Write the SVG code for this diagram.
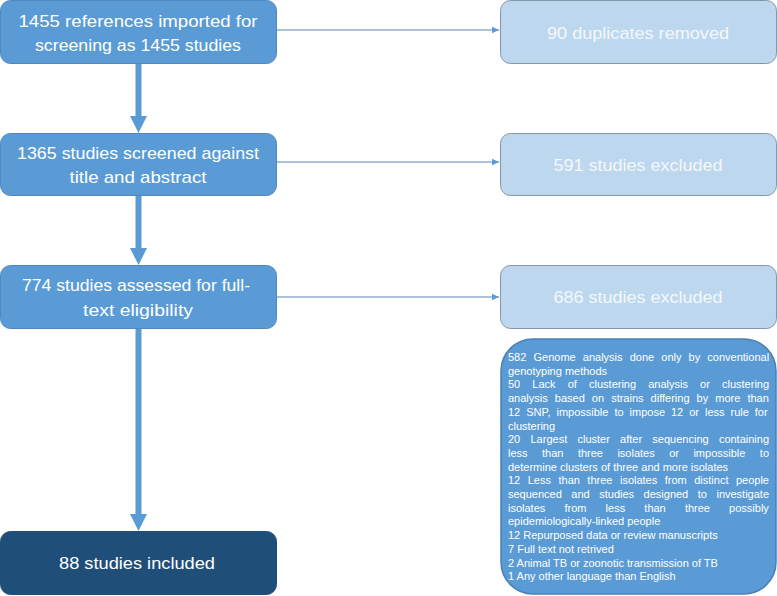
<svg xmlns="http://www.w3.org/2000/svg" width="777" height="596" viewBox="0 0 777 596">
<style>
.main{fill:#5B9BD5;stroke:#4F88BD;stroke-width:1}
.light{fill:#BDD7EE;stroke:#8497AC;stroke-width:1}
.dark{fill:#1F4E79;stroke:#1F4E79;stroke-width:1}
.big{fill:#5B9BD5;stroke:#4A80B3;stroke-width:1.5}
.t{font-family:"Liberation Sans",Arial,sans-serif;font-size:17px;fill:#FFFFFF;text-anchor:middle}
.tl{font-family:"Liberation Sans",Arial,sans-serif;font-size:17px;fill:#F4F8FC;text-anchor:middle}
.s{font-family:"Liberation Sans",Arial,sans-serif;font-size:11px;fill:#FFFFFF}
.conn{stroke:#8FB1D1;stroke-width:1.5;fill:none}
.thick{stroke:#5B9BD5;stroke-width:6;fill:none}
</style>
<defs>
<marker id="sm" markerWidth="8" markerHeight="8" refX="7" refY="4" orient="auto" markerUnits="userSpaceOnUse">
<path d="M0,0.8 L7,4 L0,7.2 Z" fill="#5B9BD5"/>
</marker>
</defs>
<g id="connectors">
<line class="thick" x1="138.5" y1="64" x2="138.5" y2="117"/>
<path d="M130,116 L147,116 L138.5,133 Z" fill="#5B9BD5"/>
<line class="thick" x1="138.5" y1="196" x2="138.5" y2="249"/>
<path d="M130,248 L147,248 L138.5,265 Z" fill="#5B9BD5"/>
<line class="thick" x1="138.5" y1="329" x2="138.5" y2="515"/>
<path d="M130,514 L147,514 L138.5,531 Z" fill="#5B9BD5"/>
<line class="conn" x1="277" y1="30" x2="499" y2="30" marker-end="url(#sm)"/>
<line class="conn" x1="277" y1="162" x2="499" y2="162" marker-end="url(#sm)"/>
<line class="conn" x1="277" y1="297" x2="499" y2="297" marker-end="url(#sm)"/>
</g>
<g id="n1">
<rect class="main" x="0.5" y="0.5" width="276" height="63" rx="10"/>
<text class="t" x="138" y="27" textLength="239" lengthAdjust="spacingAndGlyphs">1455 references  imported for</text>
<text class="t" x="138" y="51" textLength="206" lengthAdjust="spacingAndGlyphs">screening  as 1455 studies</text>
</g>
<g id="n2">
<rect class="main" x="0.5" y="133.5" width="276" height="62" rx="10"/>
<text class="t" x="138" y="159" textLength="242" lengthAdjust="spacingAndGlyphs">1365 studies screened  against</text>
<text class="t" x="138" y="183" textLength="137" lengthAdjust="spacingAndGlyphs">title and abstract</text>
</g>
<g id="n3">
<rect class="main" x="0.5" y="265.5" width="276" height="63" rx="10"/>
<text class="t" x="136" y="291" textLength="228" lengthAdjust="spacingAndGlyphs">774 studies assessed for full-</text>
<text class="t" x="138" y="316" textLength="110" lengthAdjust="spacingAndGlyphs">text eligibility</text>
</g>
<g id="n4">
<rect class="dark" x="0.5" y="531.5" width="276" height="63" rx="10"/>
<text class="t" x="137" y="569" textLength="156" lengthAdjust="spacingAndGlyphs">88 studies included</text>
</g>
<g id="r1">
<rect class="light" x="500.5" y="0.5" width="276" height="63" rx="10"/>
<text class="tl" x="638" y="39" textLength="182" lengthAdjust="spacingAndGlyphs">90 duplicates removed</text>
</g>
<g id="r2">
<rect class="light" x="500.5" y="133.5" width="276" height="62" rx="10"/>
<text class="tl" x="638" y="171" textLength="169" lengthAdjust="spacingAndGlyphs">591 studies  excluded</text>
</g>
<g id="r3">
<rect class="light" x="500.5" y="265.5" width="276" height="63" rx="10"/>
<text class="tl" x="638" y="303" textLength="169" lengthAdjust="spacingAndGlyphs">686 studies excluded</text>
</g>
<g id="r4">
<rect class="big" x="501" y="339" width="275" height="255" rx="32"/>
<text class="s" x="508" y="361" word-spacing="4.07">582 Genome analysis done only by conventional</text>
<text class="s" x="508" y="374.7">genotyping methods</text>
<text class="s" x="508" y="388.4" word-spacing="9.07">50 Lack of clustering analysis or clustering</text>
<text class="s" x="508" y="402.1" word-spacing="4.01">analysis based on strains differing by more than</text>
<text class="s" x="508" y="415.8" word-spacing="2.92">12 SNP, impossible to impose 12 or less rule for</text>
<text class="s" x="508" y="429.5">clustering</text>
<text class="s" x="508" y="443.2" word-spacing="7.2">20 Largest cluster after sequencing containing</text>
<text class="s" x="508" y="456.9" word-spacing="11.4">less than three isolates or impossible to</text>
<text class="s" x="508" y="470.6">determine clusters of three and more isolates</text>
<text class="s" x="508" y="484.3" word-spacing="4.44">12 Less than three isolates from distinct people</text>
<text class="s" x="508" y="498" word-spacing="6.46">sequenced and studies designed to investigate</text>
<text class="s" x="508" y="511.7" word-spacing="16.1">isolates from less than three possibly</text>
<text class="s" x="508" y="525.4">epidemiologically-linked people</text>
<text class="s" x="508" y="539.1">12 Repurposed data or review manuscripts</text>
<text class="s" x="508" y="552.8">7 Full text not retrived</text>
<text class="s" x="508" y="566.5">2 Animal TB or zoonotic transmission of TB</text>
<text class="s" x="508" y="580.2">1 Any other language than English</text>
</g>
</svg>
